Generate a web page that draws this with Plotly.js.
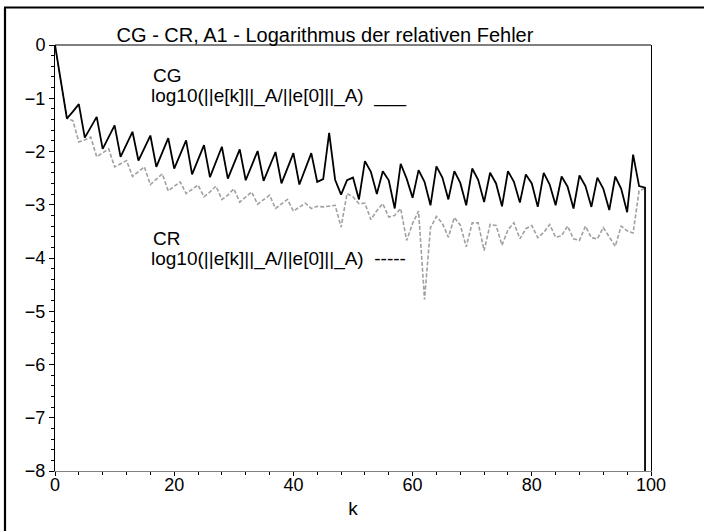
<!DOCTYPE html>
<html>
<head>
<meta charset="utf-8">
<script src="https://cdn.plot.ly/plotly-3.0.1.min.js"></script>
<style>html,body{margin:0;padding:0;background:#fff;}#chart{width:704px;height:531px;}</style>
</head>
<body>
<div id="chart"></div>
<script>
// log10(||e[k]||_A / ||e[0]||_A) for CG, k = 0..99
const cgLog = [
  0, -0.69, -1.38, -1.25, -1.11, -1.74, -1.55, -1.35, -1.95, -1.73,
  -1.51, -2.10, -1.86, -1.63, -2.17, -1.93, -1.70, -2.29, -2.02, -1.75,
  -2.32, -2.05, -1.79, -2.43, -2.15, -1.88, -2.48, -2.19, -1.91, -2.51,
  -2.23, -1.96, -2.54, -2.26, -1.99, -2.55, -2.28, -2.01, -2.60, -2.31,
  -2.03, -2.62, -2.32, -2.03, -2.57, -2.52, -1.65, -2.53, -2.81, -2.54,
  -2.49, -2.90, -2.18, -2.38, -2.80, -2.37, -2.54, -3.07, -2.23, -2.51,
  -2.87, -2.35, -2.57, -3.01, -2.28, -2.49, -2.90, -2.37, -2.59, -3.01,
  -2.32, -2.53, -2.95, -2.40, -2.60, -3.03, -2.37, -2.57, -2.96, -2.43,
  -2.60, -3.04, -2.40, -2.62, -3.01, -2.47, -2.66, -3.07, -2.45, -2.65,
  -3.04, -2.49, -2.70, -3.10, -2.47, -2.70, -3.14, -2.06, -2.65, -2.68
];
// final CG drop (error reaches zero -> bottom of the axis)
const cgDropK = 99;
const cgDropValue = -8;

// log10(||e[k]||_A / ||e[0]||_A) for CR, k = 0..99
const crLog = [
  0, -0.69, -1.38, -1.42, -1.82, -1.78, -1.73, -2.10, -2.03, -1.95,
  -2.29, -2.23, -2.17, -2.47, -2.38, -2.29, -2.62, -2.52, -2.42, -2.74,
  -2.65, -2.57, -2.79, -2.71, -2.63, -2.85, -2.76, -2.65, -2.90, -2.82,
  -2.70, -2.95, -2.85, -2.76, -2.99, -2.90, -2.82, -3.07, -2.99, -2.90,
  -3.12, -3.04, -2.97, -3.07, -3.03, -3.04, -3.03, -3.01, -3.42, -2.79,
  -2.85, -2.98, -2.97, -3.28, -3.11, -2.98, -3.23, -3.20, -3.07, -3.67,
  -3.35, -3.12, -4.78, -3.43, -3.22, -3.35, -3.61, -3.24, -3.38, -3.79,
  -3.34, -3.34, -3.86, -3.37, -3.39, -3.76, -3.47, -3.34, -3.64, -3.45,
  -3.39, -3.62, -3.52, -3.37, -3.61, -3.58, -3.40, -3.64, -3.67, -3.40,
  -3.62, -3.64, -3.43, -3.60, -3.78, -3.40, -3.49, -3.53, -2.74, -2.69
];

const titleText = "CG - CR, A1 - Logarithmus der relativen Fehler";
const xLabel = "k";
const cgLabel = "CG";
const crLabel = "CR";
const cgLegend = "log10(||e[k]||_A/||e[0]||_A)\u00a0\u00a0___";
const crLegend = "log10(||e[k]||_A/||e[0]||_A)\u00a0\u00a0-----";

const kCR = crLog.map((v, i) => i);
const kCG = cgLog.map((v, i) => i).concat([cgDropK]);
const yCG = cgLog.concat([cgDropValue]);

const FONT = "Liberation Sans, Arial, Helvetica, sans-serif";

const traces = [
  {x: kCR, y: crLog, type: "scatter", mode: "lines",
   line: {color: "#a0a0a0", width: 1.6, dash: "4px,2px"}, hoverinfo: "skip"},
  {x: kCG, y: yCG, type: "scatter", mode: "lines",
   line: {color: "#000000", width: 1.8}, hoverinfo: "skip"}
];

const layout = {
  width: 704, height: 531,
  margin: {l: 55, r: 53, t: 45, b: 60, pad: 0},
  paper_bgcolor: "#fff", plot_bgcolor: "#fff",
  showlegend: false,
  font: {family: FONT, size: 18, color: "#000"},
  title: {text: titleText, font: {family: FONT, size: 20, color: "#000"},
          x: 325 / 704, xref: "container", xanchor: "center",
          y: 1 - 35 / 531, yref: "container", yanchor: "middle"},
  xaxis: {range: [0, 100], showgrid: false, zeroline: false,
          showline: true, linecolor: "#808080", linewidth: 1,
          ticks: "outside", ticklen: 4, tickcolor: "#000", tickwidth: 1,
          tickvals: [0, 20, 40, 60, 80, 100],
          ticklabelstandoff: -7,
          minor: {dtick: 4, ticks: "outside", ticklen: 3, tickcolor: "#000", showgrid: false},
          tickfont: {family: FONT, size: 18},
          title: {text: xLabel, font: {family: FONT, size: 19}, standoff: 8}},
  yaxis: {range: [-8, 0], showgrid: false, zeroline: false,
          showline: true, linecolor: "#000", linewidth: 1, mirror: true,
          ticks: "outside", ticklen: 5, tickcolor: "#000", tickwidth: 1,
          tickvals: [0, -1, -2, -3, -4, -5, -6, -7, -8],
          minor: {dtick: 0.2, ticks: "outside", ticklen: 3, tickcolor: "#000", showgrid: false},
          tickfont: {family: FONT, size: 18}},
  shapes: [
    // top border of the plot box
    {type: "line", xref: "paper", yref: "paper", x0: 0, x1: 1, y0: 1, y1: 1,
     line: {color: "#000", width: 1}},
    // outer frame (left and top edges)
    {type: "line", xref: "paper", yref: "paper", x0: -50 / 596, x1: -50 / 596,
     y0: (471 - 7.5) / 426, y1: (471 - 540) / 426, line: {color: "#000", width: 2.2}},
    {type: "line", xref: "paper", yref: "paper", x0: -51 / 596, x1: 660 / 596,
     y0: (471 - 7.5) / 426, y1: (471 - 7.5) / 426, line: {color: "#000", width: 2.2}}
  ],
  annotations: [
    {text: cgLabel, x: 16.1, y: -0.57, xref: "x", yref: "y", xanchor: "left", yanchor: "middle",
     showarrow: false, font: {family: FONT, size: 19}},
    {text: cgLegend, x: 15.8, y: -0.95, xref: "x", yref: "y", xanchor: "left", yanchor: "middle",
     showarrow: false, font: {family: FONT, size: 19}},
    {text: crLabel, x: 16.1, y: -3.64, xref: "x", yref: "y", xanchor: "left", yanchor: "middle",
     showarrow: false, font: {family: FONT, size: 19}},
    {text: crLegend, x: 15.8, y: -4.02, xref: "x", yref: "y", xanchor: "left", yanchor: "middle",
     showarrow: false, font: {family: FONT, size: 19}}
  ]
};

Plotly.newPlot("chart", traces, layout, {staticPlot: true, displayModeBar: false});
</script>
</body>
</html>
